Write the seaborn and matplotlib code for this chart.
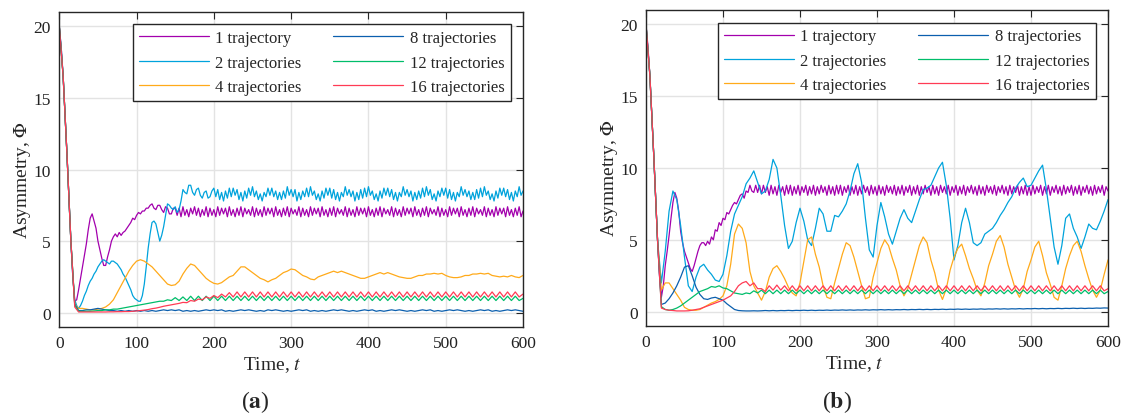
import numpy as np
import pandas as pd
import matplotlib
matplotlib.use("Agg")
import matplotlib.pyplot as plt
import seaborn as sns

# ------------------------------------------------------------------
# Data
# coarse series: every 5 time units, fine series: every 2.5 time units
# ------------------------------------------------------------------
TIME = list(range(0, 601, 5))
TIME_FINE = [i * 2.5 for i in range(241)]

LABELS = ["1 trajectory", "2 trajectories", "4 trajectories",
          "8 trajectories", "12 trajectories", "16 trajectories"]
COLORS = ["#a300ad", "#00a3dc", "#ffaa1a", "#0b5fae", "#00bd6a", "#ff3b55"]

# --- panel (a) ---
a_traj1 = [20.0, 18.5, 16.5, 13.8, 11.0, 8.0, 5.0, 2.5, 0.8, 0.9, 1.6, 2.4, 3.2, 4.0, 4.8, 5.8, 6.6, 6.9, 6.4, 5.9,
           5.0, 4.4, 3.8, 3.3, 3.3, 3.9, 4.4, 5.0, 5.3, 5.5, 5.3, 5.6, 5.4, 5.6, 5.7, 5.9, 6.1, 6.3, 6.6, 6.5,
           6.8, 7.0, 6.9, 7.1, 7.1, 7.3, 7.3, 7.5, 7.6, 7.3, 7.2, 7.5, 7.5, 7.2, 7.0, 7.4, 7.3, 6.9, 6.9, 7.3,
           7.3, 6.8, 7.3, 6.7, 7.4, 6.8, 7.2, 6.7, 7.3, 6.9, 7.4, 6.8, 7.3, 6.7, 7.2, 6.8, 7.4, 6.7, 7.3, 6.8,
           7.2, 6.7, 7.4, 6.8, 7.3, 6.9, 7.3, 6.7, 7.4, 6.8, 7.2, 6.7, 7.3, 6.8, 7.4, 6.7, 7.3, 6.9, 7.2, 6.8,
           7.4, 6.7, 7.3, 6.8, 7.2, 6.7, 7.4, 6.8, 7.3, 6.9, 7.3, 6.7, 7.4, 6.8, 7.2, 6.7, 7.3, 6.8, 7.4, 6.7,
           7.3, 6.9, 7.2, 6.8, 7.4, 6.7, 7.3, 6.8, 7.2, 6.7, 7.4, 6.8, 7.3, 6.9, 7.3, 6.7, 7.4, 6.8, 7.2, 6.7,
           7.3, 6.8, 7.4, 6.7, 7.3, 6.9, 7.2, 6.8, 7.4, 6.7, 7.3, 6.8, 7.2, 6.7, 7.4, 6.8, 7.3, 6.9, 7.3, 6.7,
           7.4, 6.8, 7.2, 6.7, 7.3, 6.8, 7.4, 6.7, 7.3, 6.9, 7.2, 6.8, 7.4, 6.7, 7.3, 6.8, 7.2, 6.7, 7.4, 6.8,
           7.3, 6.9, 7.3, 6.7, 7.4, 6.8, 7.2, 6.7, 7.3, 6.8, 7.4, 6.7, 7.3, 6.9, 7.2, 6.8, 7.4, 6.7, 7.3, 6.8,
           7.2, 6.7, 7.4, 6.8, 7.3, 6.9, 7.3, 6.7, 7.4, 6.8, 7.2, 6.7, 7.3, 6.8, 7.4, 6.7, 7.3, 6.9, 7.2, 6.8,
           7.4, 6.7, 7.3, 6.8, 7.2, 6.7, 7.4, 6.8, 7.3, 6.9, 7.3, 6.7, 7.4, 6.8, 7.2, 6.7, 7.3, 6.8, 7.4, 6.7,
           7.1]
a_traj2 = [20.0, 18.5, 16.5, 13.8, 11.0, 8.0, 5.0, 2.5, 0.9, 0.5, 0.3, 0.5, 0.8, 1.2, 1.5, 1.9, 2.2, 2.4, 2.7, 2.9,
           3.2, 3.4, 3.6, 3.7, 3.6, 3.5, 3.4, 3.6, 3.6, 3.5, 3.4, 3.2, 3.0, 2.7, 2.5, 2.2, 1.9, 1.6, 1.2, 1.0,
           0.9, 0.8, 0.8, 1.2, 2.0, 3.2, 4.5, 5.5, 6.3, 6.4, 6.2, 5.6, 5.0, 5.4, 6.0, 6.8, 7.6, 7.5, 7.3, 7.2,
           7.4, 7.0, 7.2, 7.8, 8.6, 8.4, 8.3, 8.9, 8.9, 8.4, 8.2, 8.6, 8.7, 8.2, 8.0, 8.4, 8.5, 8.0, 8.1, 8.5,
           8.7, 8.1, 8.6, 7.9, 8.4, 7.8, 8.5, 8.0, 8.7, 8.1, 8.7, 8.2, 8.6, 7.9, 8.4, 7.8, 8.5, 8.0, 8.7, 8.2,
           8.8, 8.1, 8.5, 7.9, 8.3, 7.8, 8.4, 8.1, 8.7, 8.2, 8.7, 8.1, 8.5, 7.9, 8.4, 7.9, 8.5, 8.0, 8.8, 8.2,
           8.6, 8.1, 8.6, 7.8, 8.4, 7.9, 8.5, 8.1, 8.7, 8.1, 8.8, 8.2, 8.5, 7.9, 8.3, 7.8, 8.5, 8.0, 8.7, 8.2,
           8.7, 8.0, 8.6, 7.9, 8.4, 7.8, 8.4, 8.1, 8.8, 8.2, 8.6, 8.1, 8.5, 7.8, 8.4, 7.9, 8.6, 8.0, 8.7, 8.1,
           8.8, 8.2, 8.5, 7.9, 8.3, 7.8, 8.5, 8.0, 8.7, 8.2, 8.7, 8.1, 8.6, 7.9, 8.4, 7.8, 8.4, 8.1, 8.8, 8.2,
           8.6, 8.1, 8.5, 7.8, 8.4, 7.9, 8.5, 8.0, 8.7, 8.1, 8.8, 8.2, 8.6, 7.9, 8.3, 7.8, 8.5, 8.1, 8.7, 8.2,
           8.7, 8.0, 8.6, 7.9, 8.4, 7.8, 8.4, 8.1, 8.8, 8.2, 8.6, 8.1, 8.5, 7.9, 8.4, 7.9, 8.6, 8.0, 8.7, 8.1,
           8.8, 8.2, 8.5, 7.9, 8.3, 7.8, 8.5, 8.0, 8.7, 8.2, 8.7, 8.1, 8.6, 7.9, 8.4, 7.8, 8.5, 8.1, 8.8, 8.2,
           8.5]
a_traj4 = [20.0, 16.5, 11.0, 5.0, 0.6, 0.3, 0.3, 0.25, 0.2, 0.2,
           0.25, 0.3, 0.4, 0.6, 0.9, 1.4, 1.9, 2.4, 2.9, 3.3,
           3.6, 3.7, 3.6, 3.4, 3.2, 2.9, 2.6, 2.3, 2.0, 1.9,
           1.95, 2.2, 2.7, 3.1, 3.4, 3.3, 3.0, 2.7, 2.4, 2.2,
           2.05, 2.0, 2.1, 2.3, 2.5, 2.6, 2.9, 3.2, 3.2, 3.0,
           2.8, 2.6, 2.4, 2.3, 2.15, 2.3, 2.4, 2.6, 2.8, 2.9,
           3.05, 3.0, 2.8, 2.6, 2.5, 2.35, 2.3, 2.5, 2.6, 2.7,
           2.8, 2.9, 2.8, 2.9, 2.8, 2.7, 2.6, 2.5, 2.4, 2.4,
           2.5, 2.6, 2.7, 2.8, 2.7, 2.8, 2.7, 2.6, 2.5, 2.45,
           2.4, 2.4, 2.5, 2.6, 2.6, 2.7, 2.7, 2.75, 2.7, 2.75,
           2.6, 2.5, 2.45, 2.45, 2.5, 2.6, 2.6, 2.7, 2.7, 2.75,
           2.7, 2.75, 2.6, 2.55, 2.5, 2.55, 2.5, 2.6, 2.5, 2.45,
           2.6]
a_traj8 = [20.0, 16.5, 11.0, 5.0, 0.6, 0.15, 0.15, 0.2, 0.2, 0.25,
           0.3, 0.25, 0.2, 0.15, 0.15, 0.1, 0.15, 0.1, 0.15, 0.1,
           0.15, 0.1, 0.15, 0.1, 0.15, 0.1, 0.15, 0.2, 0.15, 0.2,
           0.15, 0.2, 0.1, 0.15, 0.1, 0.15, 0.1, 0.15, 0.2, 0.15,
           0.2, 0.15, 0.2, 0.1, 0.15, 0.1, 0.15, 0.2, 0.15, 0.2,
           0.15, 0.1, 0.15, 0.1, 0.2, 0.15, 0.2, 0.15, 0.1, 0.15,
           0.1, 0.15, 0.2, 0.15, 0.2, 0.1, 0.15, 0.1, 0.15, 0.1,
           0.15, 0.2, 0.15, 0.2, 0.15, 0.1, 0.15, 0.1, 0.15, 0.2,
           0.15, 0.2, 0.1, 0.15, 0.1, 0.15, 0.2, 0.15, 0.2, 0.15,
           0.1, 0.15, 0.1, 0.15, 0.2, 0.15, 0.2, 0.1, 0.15, 0.1,
           0.15, 0.2, 0.15, 0.2, 0.15, 0.1, 0.15, 0.1, 0.15, 0.2,
           0.15, 0.2, 0.1, 0.15, 0.1, 0.15, 0.2, 0.15, 0.2, 0.15,
           0.1]
a_traj12 = [20.0, 16.5, 11.0, 5.0, 0.5, 0.1, 0.1, 0.1, 0.1, 0.12,
            0.15, 0.15, 0.2, 0.2, 0.25, 0.25, 0.3, 0.35, 0.4, 0.45,
            0.5, 0.55, 0.6, 0.65, 0.7, 0.75, 0.8, 0.8, 0.9, 0.85,
            1.05, 0.85, 1.1, 0.85, 1.15, 0.85, 1.15, 0.85, 1.15, 0.85,
            1.15, 0.85, 1.15, 0.85, 1.15, 0.85, 1.15, 0.85, 1.15, 0.85,
            1.15, 0.85, 1.15, 0.85, 1.15, 0.85, 1.15, 0.85, 1.15, 0.85,
            1.15, 0.85, 1.15, 0.85, 1.15, 0.85, 1.15, 0.85, 1.15, 0.85,
            1.15, 0.85, 1.15, 0.85, 1.15, 0.85, 1.15, 0.85, 1.15, 0.85,
            1.15, 0.85, 1.15, 0.85, 1.15, 0.85, 1.15, 0.85, 1.15, 0.85,
            1.15, 0.85, 1.15, 0.85, 1.15, 0.85, 1.15, 0.85, 1.15, 0.85,
            1.15, 0.85, 1.15, 0.85, 1.15, 0.85, 1.15, 0.85, 1.15, 0.85,
            1.15, 0.85, 1.15, 0.85, 1.15, 0.85, 1.15, 0.85, 1.15, 0.85,
            1.0]
a_traj16 = [20.0, 16.5, 11.0, 5.0, 0.4, 0.05, 0.05, 0.05, 0.05, 0.05,
            0.05, 0.05, 0.05, 0.06, 0.06, 0.07, 0.07, 0.08, 0.08, 0.1,
            0.12, 0.15, 0.18, 0.22, 0.28, 0.32, 0.38, 0.45, 0.5, 0.55,
            0.6, 0.65, 0.72, 0.7, 0.85, 0.8, 0.95, 0.9, 1.1, 1.0,
            1.2, 1.05, 1.3, 1.1, 1.4, 1.1, 1.45, 1.1, 1.45, 1.1,
            1.45, 1.1, 1.45, 1.1, 1.45, 1.1, 1.45, 1.1, 1.45, 1.1,
            1.45, 1.1, 1.45, 1.1, 1.45, 1.1, 1.45, 1.1, 1.45, 1.1,
            1.45, 1.1, 1.45, 1.1, 1.45, 1.1, 1.45, 1.1, 1.45, 1.1,
            1.45, 1.1, 1.45, 1.1, 1.45, 1.1, 1.45, 1.1, 1.45, 1.1,
            1.45, 1.1, 1.45, 1.1, 1.45, 1.1, 1.45, 1.1, 1.45, 1.1,
            1.45, 1.1, 1.45, 1.1, 1.45, 1.1, 1.45, 1.1, 1.45, 1.1,
            1.45, 1.1, 1.45, 1.1, 1.45, 1.1, 1.45, 1.1, 1.45, 1.1,
            1.3]

# --- panel (b) ---
b_traj1 = [20.0, 18.5, 16.5, 13.8, 11.0, 8.0, 5.0, 2.5, 1.0, 1.8, 3.2, 4.2, 5.3, 6.5, 7.6, 8.3, 7.9, 7.0, 5.6, 4.8,
           4.2, 3.8, 3.4, 3.0, 2.8, 3.2, 3.7, 4.2, 4.6, 4.8, 4.8, 4.6, 4.9, 4.7, 5.2, 5.0, 5.7, 5.6, 6.2, 6.0,
           6.5, 6.4, 6.9, 6.8, 7.1, 7.4, 7.6, 7.5, 7.8, 8.1, 8.2, 7.9, 8.4, 8.3, 8.8, 8.4, 8.3, 8.8, 8.3, 8.8,
           8.2, 8.8, 8.3, 8.7, 8.1, 8.8, 8.2, 8.7, 8.1, 8.8, 8.3, 8.7, 8.1, 8.8, 8.2, 8.8, 8.1, 8.7, 8.2, 8.8,
           8.1, 8.7, 8.3, 8.8, 8.1, 8.7, 8.2, 8.8, 8.1, 8.7, 8.2, 8.8, 8.3, 8.7, 8.1, 8.8, 8.2, 8.7, 8.1, 8.8,
           8.2, 8.8, 8.1, 8.7, 8.3, 8.8, 8.1, 8.7, 8.2, 8.8, 8.1, 8.7, 8.2, 8.8, 8.3, 8.7, 8.1, 8.8, 8.2, 8.7,
           8.1, 8.8, 8.2, 8.7, 8.1, 8.8, 8.3, 8.7, 8.2, 8.8, 8.1, 8.7, 8.2, 8.8, 8.1, 8.7, 8.3, 8.8, 8.1, 8.7,
           8.2, 8.8, 8.1, 8.7, 8.2, 8.8, 8.3, 8.7, 8.1, 8.8, 8.2, 8.7, 8.1, 8.8, 8.3, 8.7, 8.2, 8.8, 8.1, 8.7,
           8.3, 8.8, 8.1, 8.7, 8.2, 8.8, 8.1, 8.7, 8.3, 8.8, 8.2, 8.7, 8.1, 8.8, 8.2, 8.7, 8.1, 8.8, 8.3, 8.7,
           8.2, 8.8, 8.1, 8.7, 8.3, 8.8, 8.2, 8.7, 8.1, 8.8, 8.2, 8.7, 8.3, 8.8, 8.1, 8.7, 8.2, 8.8, 8.1, 8.7,
           8.1, 8.8, 8.2, 8.7, 8.3, 8.8, 8.1, 8.7, 8.2, 8.8, 8.1, 8.7, 8.3, 8.8, 8.2, 8.7, 8.1, 8.8, 8.2, 8.7,
           8.3, 8.8, 8.1, 8.7, 8.2, 8.8, 8.1, 8.7, 8.3, 8.8, 8.2, 8.7, 8.1, 8.8, 8.2, 8.7, 8.3, 8.8, 8.1, 8.7,
           8.4]
b_traj2 = [20.0, 16.5, 11.0, 5.0, 2.0, 4.2, 7.0, 8.4, 7.8, 6.0,
           3.8, 1.8, 1.4, 2.4, 3.1, 3.3, 2.9, 2.6, 2.2, 2.1,
           2.6, 3.9, 5.6, 6.8, 7.4, 8.0, 8.9, 9.3, 9.8, 9.0,
           8.2, 8.4, 9.2, 10.6, 10.0, 8.1, 6.0, 4.4, 4.9, 6.2,
           7.2, 6.3, 5.0, 4.6, 5.8, 7.2, 6.8, 5.6, 5.6, 6.7,
           6.6, 7.0, 7.5, 8.4, 9.6, 10.3, 9.0, 6.5, 4.3, 3.8,
           6.0, 7.6, 6.6, 5.4, 4.7, 5.6, 6.5, 7.1, 6.5, 6.2,
           7.0, 7.8, 8.5, 8.6, 8.8, 9.4, 10.0, 10.4, 8.8, 6.5,
           3.6, 4.6, 6.2, 7.2, 6.2, 4.8, 4.6, 4.8, 5.4, 5.6,
           5.8, 6.2, 6.7, 7.1, 7.6, 8.0, 8.6, 9.0, 9.3, 8.7,
           8.8, 9.3, 9.8, 10.2, 8.5, 6.5, 4.5, 3.3, 4.6, 6.5,
           6.8, 5.8, 5.2, 4.4, 5.2, 6.1, 5.8, 5.7, 6.3, 7.0,
           7.8]
b_traj4 = [20.0, 16.5, 11.0, 5.0, 1.5, 2.0, 2.0, 1.6, 1.2, 0.8,
           0.3, 0.15, 0.1, 0.1, 0.15, 0.3, 0.45, 0.6, 0.7, 0.85,
           1.1, 1.8, 3.3, 5.4, 6.1, 5.8, 4.8, 2.8, 1.8, 1.3,
           0.8, 1.4, 2.4, 3.0, 3.2, 2.8, 2.3, 1.7, 1.3, 1.1,
           2.0, 3.5, 5.0, 5.2, 4.0, 3.1, 1.8, 1.0, 0.9, 2.0,
           3.0, 4.0, 4.8, 4.6, 3.8, 2.8, 1.8, 0.9, 1.0, 2.4,
           3.4, 4.4, 5.0, 4.6, 3.7, 2.9, 1.8, 1.1, 1.6, 2.6,
           3.6, 4.6, 5.2, 4.8, 3.6, 2.7, 1.5, 0.85, 1.6, 2.9,
           3.8, 4.4, 4.7, 3.9, 3.0, 2.3, 1.5, 1.1, 2.0, 3.2,
           4.0, 4.9, 5.3, 4.5, 3.3, 2.4, 1.5, 1.0, 1.6, 2.8,
           3.6, 4.5, 4.9, 3.9, 2.7, 1.9, 1.0, 0.8, 1.8, 3.0,
           3.9, 4.6, 4.9, 4.2, 3.2, 2.3, 1.5, 1.0, 1.5, 2.6,
           3.6]
b_traj8 = [20.0, 16.5, 11.0, 5.0, 0.5, 0.6, 0.9, 1.3, 1.8, 2.4,
           3.1, 3.2, 2.5, 1.7, 1.2, 0.9, 0.85, 0.95, 1.0, 0.9,
           0.8, 0.55, 0.35, 0.15, 0.08, 0.06, 0.05, 0.05, 0.06, 0.05,
           0.06, 0.08, 0.06, 0.08, 0.06, 0.08, 0.07, 0.09, 0.07, 0.09,
           0.08, 0.1, 0.08, 0.1, 0.08, 0.1, 0.09, 0.11, 0.09, 0.11,
           0.1, 0.12, 0.1, 0.12, 0.1, 0.12, 0.11, 0.13, 0.11, 0.13,
           0.12, 0.14, 0.12, 0.14, 0.12, 0.14, 0.13, 0.15, 0.13, 0.15,
           0.14, 0.16, 0.14, 0.16, 0.14, 0.16, 0.15, 0.17, 0.15, 0.17,
           0.16, 0.18, 0.16, 0.18, 0.16, 0.18, 0.17, 0.19, 0.17, 0.19,
           0.18, 0.2, 0.18, 0.2, 0.18, 0.2, 0.19, 0.21, 0.19, 0.21,
           0.2, 0.22, 0.2, 0.22, 0.2, 0.22, 0.21, 0.23, 0.21, 0.23,
           0.22, 0.24, 0.22, 0.24, 0.22, 0.24, 0.23, 0.25, 0.24, 0.26,
           0.25]
b_traj12 = [20.0, 16.5, 11.0, 5.0, 0.35, 0.15, 0.1, 0.15, 0.25, 0.4,
            0.6, 0.8, 1.0, 1.2, 1.4, 1.5, 1.6, 1.75, 1.7, 1.8,
            1.65, 1.6, 1.45, 1.3, 1.25, 1.2, 1.3, 1.25, 1.45, 1.3,
            1.5, 1.25, 1.5, 1.25, 1.5, 1.25, 1.5, 1.25, 1.5, 1.25,
            1.5, 1.25, 1.5, 1.25, 1.5, 1.25, 1.5, 1.25, 1.5, 1.25,
            1.5, 1.25, 1.5, 1.25, 1.5, 1.25, 1.5, 1.25, 1.5, 1.25,
            1.5, 1.25, 1.5, 1.25, 1.5, 1.25, 1.5, 1.25, 1.5, 1.25,
            1.5, 1.25, 1.5, 1.25, 1.5, 1.25, 1.5, 1.25, 1.5, 1.25,
            1.5, 1.25, 1.5, 1.25, 1.5, 1.25, 1.5, 1.25, 1.5, 1.25,
            1.5, 1.25, 1.5, 1.25, 1.5, 1.25, 1.5, 1.25, 1.5, 1.25,
            1.5, 1.25, 1.5, 1.25, 1.5, 1.25, 1.5, 1.25, 1.5, 1.25,
            1.5, 1.25, 1.5, 1.25, 1.5, 1.25, 1.5, 1.25, 1.5, 1.25,
            1.4]
b_traj16 = [20.0, 16.5, 11.0, 5.0, 0.25, 0.15, 0.1, 0.08, 0.05, 0.05,
            0.05, 0.06, 0.1, 0.15, 0.2, 0.3, 0.4, 0.5, 0.6, 0.7,
            0.8, 0.95, 1.1, 1.4, 1.8, 2.0, 2.1, 1.8, 2.0, 1.6,
            1.6, 1.4, 1.8, 1.5, 1.85, 1.5, 1.8, 1.45, 1.8, 1.45,
            1.8, 1.45, 1.8, 1.45, 1.8, 1.45, 1.8, 1.45, 1.8, 1.45,
            1.8, 1.45, 1.8, 1.45, 1.8, 1.45, 1.8, 1.45, 1.8, 1.45,
            1.8, 1.45, 1.8, 1.45, 1.8, 1.45, 1.8, 1.45, 1.8, 1.45,
            1.8, 1.45, 1.8, 1.45, 1.8, 1.45, 1.8, 1.45, 1.8, 1.45,
            1.8, 1.45, 1.8, 1.45, 1.8, 1.45, 1.8, 1.45, 1.8, 1.45,
            1.8, 1.45, 1.8, 1.45, 1.8, 1.45, 1.8, 1.45, 1.8, 1.45,
            1.8, 1.45, 1.8, 1.45, 1.8, 1.45, 1.8, 1.45, 1.8, 1.45,
            1.8, 1.45, 1.8, 1.45, 1.8, 1.45, 1.8, 1.45, 1.8, 1.45,
            1.6]

PANEL_A = [(TIME_FINE, a_traj1), (TIME_FINE, a_traj2), (TIME, a_traj4),
           (TIME, a_traj8), (TIME, a_traj12), (TIME, a_traj16)]
PANEL_B = [(TIME_FINE, b_traj1), (TIME, b_traj2), (TIME, b_traj4),
           (TIME, b_traj8), (TIME, b_traj12), (TIME, b_traj16)]


def to_long(series_list):
    frames = []
    for label, (t, vals) in zip(LABELS, series_list):
        assert len(vals) == len(t), (label, len(vals), len(t))
        frames.append(pd.DataFrame({"time": t, "value": vals, "series": label}))
    return pd.concat(frames, ignore_index=True)


# ------------------------------------------------------------------
# Style
# ------------------------------------------------------------------
sns.set_theme(style="whitegrid")
plt.rcParams["font.family"] = ["Liberation Serif", "DejaVu Serif"]
plt.rcParams["mathtext.fontset"] = "stix"
plt.rcParams["axes.edgecolor"] = "#262626"
plt.rcParams["axes.linewidth"] = 1.0
plt.rcParams["grid.color"] = "#e3e3e3"
plt.rcParams["grid.linewidth"] = 1.0

fig = plt.figure(figsize=(11.25, 4.14), dpi=100)
ax_a = fig.add_axes([0.0527, 0.2077, 0.4122, 0.7609])
ax_b = fig.add_axes([0.5742, 0.2101, 0.4107, 0.7633])

for ax, data, tag, xlab_x, tag_x in [(ax_a, PANEL_A, "a", 0.46, 0.227),
                                      (ax_b, PANEL_B, "b", 0.45, 0.744)]:
    df = to_long(data)
    sns.lineplot(data=df, x="time", y="value", hue="series",
                 hue_order=LABELS, palette=COLORS, linewidth=0.9,
                 estimator=None, ax=ax)

    ax.set_xlim(0, 600)
    ax.set_ylim(-1, 21)
    ax.set_xticks(range(0, 601, 100))
    ax.set_yticks(range(0, 21, 5))
    ax.tick_params(direction="in", length=5, width=0.8, top=True, right=True,
                   labelsize=12.5, colors="#262626", pad=6)
    ax.tick_params(labelcolor="#222222")
    ax.grid(True, color="#e3e3e3", linewidth=1.0)
    for s in ax.spines.values():
        s.set_visible(True)
        s.set_color("#262626")

    ax.set_xlabel(r"Time, $t$", fontsize=14)
    ax.set_ylabel(r"Asymmetry, $\Phi$", fontsize=14)
    ax.xaxis.set_label_coords(xlab_x, -0.085)
    ax.yaxis.set_label_coords(-0.057, 0.47)

    handles, labels = ax.get_legend_handles_labels()
    leg = ax.legend(handles, labels, ncol=2, loc="upper right", fontsize=12,
                    frameon=True, fancybox=False, framealpha=1,
                    edgecolor="#262626", handlelength=4.2, handletextpad=0.4,
                    columnspacing=1.9, labelspacing=0.5, borderpad=0.35,
                    borderaxespad=0.75)
    leg.get_frame().set_linewidth(1.0)

    fig.text(tag_x, 0.03, r"($\mathbf{" + tag + "}$)", ha="center", va="center",
             fontsize=17)

fig.savefig("out.png", dpi=100)
